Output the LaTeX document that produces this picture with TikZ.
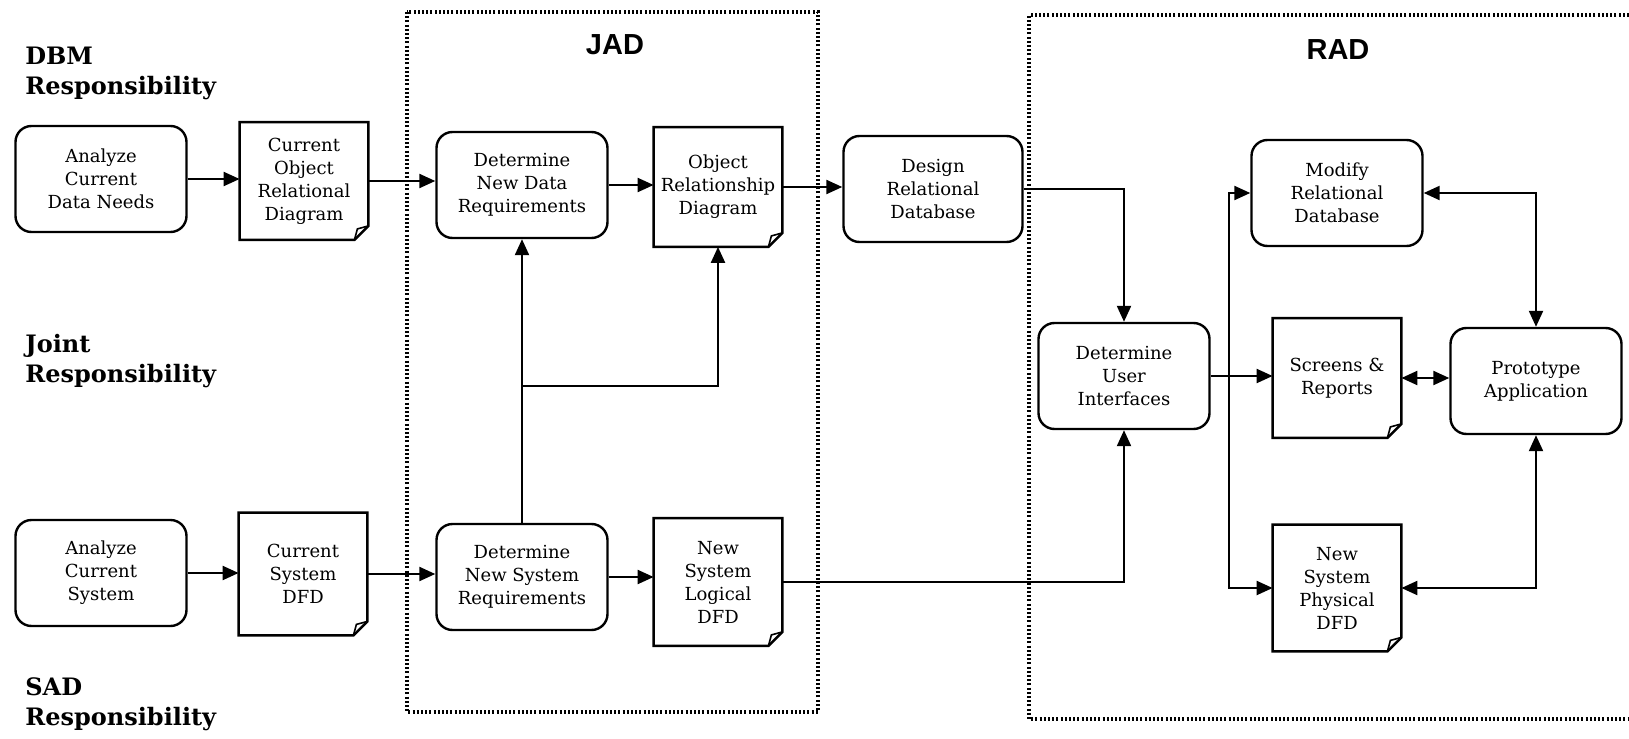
\documentclass[tikz,border=0pt]{standalone}
\usepackage{fontspec}
\setmainfont{DejaVu Serif}
\newfontfamily\headfont{Liberation Sans}
\usetikzlibrary{arrows.meta}

\begin{document}
\begin{tikzpicture}[x=0.5pt,y=-0.5pt,
  every node/.style={font=\fontsize{9}{11.5}\selectfont, align=center},
  proc/.style={draw, line width=1.2pt, rounded corners=8pt,
    minimum width=85.5pt, minimum height=53pt, inner sep=2pt},
  doc/.style={minimum width=64pt, minimum height=60pt, inner sep=1pt},
  docline/.style={line width=1.2pt, line join=miter},
  lane/.style={font=\bfseries\fontsize{12}{15}\selectfont, align=left,
    inner sep=0pt, anchor=north west},
  head/.style={font=\headfont\bfseries\fontsize{14.5}{16}\selectfont, inner sep=0pt},
  frame/.style={line width=1.7pt, dash pattern=on 1pt off 1.1pt},
  tip/.style={Triangle[length=8pt,width=7pt]},
  flow/.style={line width=1.1pt, -{Triangle[length=8pt,width=7pt]}},
  both/.style={line width=1.1pt, {Triangle[length=8pt,width=7pt]}-{Triangle[length=8pt,width=7pt]}}
]
\useasboundingbox (0,0) rectangle (1629,739);

% phase frames
\draw[frame] (407,12) rectangle (818,712);
\draw[frame] (1629,15) -- (1029,15) -- (1029,719) -- (1629,719);
\node[head] (jad) at (615,45) {JAD};
\node[head] (rad) at (1338,50) {RAD};

% responsibility lanes
\node[lane] (dbm) at (25,47) {DBM\\Responsibility};
\node[lane] (joint) at (25,334) {Joint\\Responsibility};
\node[lane] (sad) at (25,677) {SAD\\Responsibility};

% processes
\node[proc] (acdn) at (101,179) {Analyze\\Current\\Data Needs};
\node[proc] (dndr) at (522,185) {Determine\\New Data\\Requirements};
\node[proc, minimum width=89.5pt] (design) at (933,189) {Design\\Relational\\Database};
\node[proc] (modify) at (1337,193) {Modify\\Relational\\Database};
\node[proc] (dui) at (1124,376) {Determine\\User\\Interfaces};
\node[proc] (proto) at (1536,381) {Prototype\\Application};
\node[proc] (acs) at (101,573) {Analyze\\Current\\System};
\node[proc] (dnsr) at (522,577) {Determine\\New System\\Requirements};

% documents
\node[doc, minimum height=58.5pt] (cord) at (304,181) {Current\\Object\\Relational\\Diagram};
\node[doc, minimum height=59.5pt] (ord) at (718,187) {Object\\Relationship\\Diagram};
\node[doc, minimum height=59.5pt] (screens) at (1337,378) {Screens \&\\Reports};
\node[doc, minimum height=61pt] (csdfd) at (303,574) {Current\\System\\DFD};
\node[doc, minimum height=63.5pt] (nsldfd) at (718,582) {New\\System\\Logical\\DFD};
\node[doc, minimum height=63pt] (nspdfd) at (1337,588) {New\\System\\Physical\\DFD};

% document outlines with a folded corner
\foreach \d in {cord,ord,screens,csdfd,nsldfd,nspdfd}{
  \draw[docline] (\d.north west) -- (\d.north east) -- ([yshift=7pt]\d.south east)
    -- ([xshift=-7pt]\d.south east) -- (\d.south west) -- cycle;
  \draw[line width=0.8pt, line join=miter] ([xshift=-7pt]\d.south east)
    -- ([xshift=-5.5pt,yshift=5.5pt]\d.south east) -- ([yshift=7pt]\d.south east);
}

% junctions
\coordinate (j1) at (522,386);
\coordinate (j2) at (1229,376);

% top row
\draw[flow] (acdn.east) -- (acdn.east -| cord.west);
\draw[flow] (cord.east) -- (cord.east -| dndr.west);
\draw[flow] (dndr.east) -- (dndr.east -| ord.west);
\draw[flow] (ord.east) -- (ord.east -| design.west);
\draw[flow] (design.east) -| (dui.north);

% bottom row
\draw[flow] (acs.east) -- (acs.east -| csdfd.west);
\draw[flow] (csdfd.east) -- (csdfd.east -| dnsr.west);
\draw[flow] (dnsr.east) -- (dnsr.east -| nsldfd.west);
\draw[flow] (nsldfd.east) -| (dui.south);

% joint requirements
\draw[flow] (dnsr.north) -- (dndr.south);
\draw[flow] (j1) -| (ord.south);

% RAD flows
\draw[flow] (dui.east) -- (dui.east -| screens.west);
\draw[flow] (j2) |- (modify.west);
\draw[flow] (j2) |- (nspdfd.west);
\draw[both] (modify.east) -| (proto.north);
\draw[both] (screens.east) -- (screens.east -| proto.west);
\draw[both] (proto.south) |- (nspdfd.east);
\end{tikzpicture}
\end{document}
